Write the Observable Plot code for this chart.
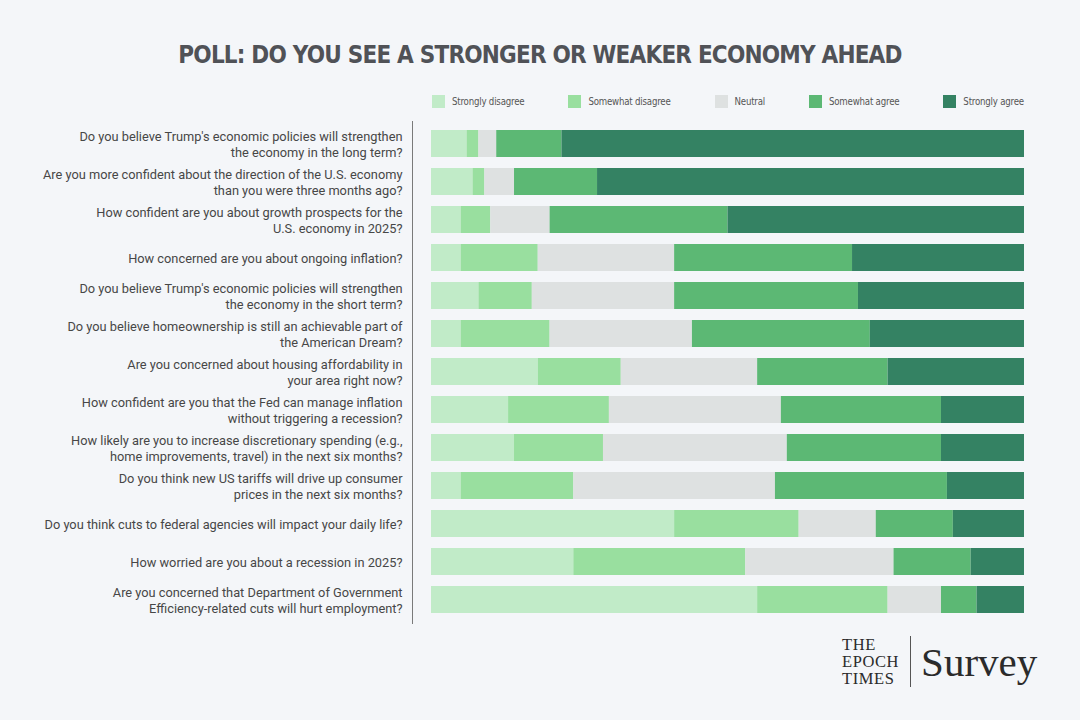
<!DOCTYPE html>
<html>
<head>
<meta charset="utf-8">
<script src="https://cdn.jsdelivr.net/npm/d3@7"></script>
<script src="https://cdn.jsdelivr.net/npm/@observablehq/plot@0.6"></script>
<style>
  html, body { margin: 0; padding: 0; background: #f4f6f9; }
  #page { position: relative; width: 1080px; height: 720px; overflow: hidden; background: #f4f6f9; }
  #title { position: absolute; left: 0; top: 40px; width: 1080px; text-align: center;
    font-family: "DejaVu Sans Condensed", "DejaVu Sans", sans-serif; font-stretch: condensed;
    font-weight: bold; font-size: 24px; line-height: 30px; letter-spacing: -0.8px; color: #505257; }
  #legend { position: absolute; left: 432px; top: 94px; width: 592px; display: flex; justify-content: space-between;
    font-family: "DejaVu Sans Condensed", "DejaVu Sans", sans-serif; font-stretch: condensed; font-size: 9.6px; letter-spacing: -0.2px; color: #555; }
  #legend .item { display: flex; align-items: center; height: 14px; }
  #legend .sw { width: 13px; height: 13px; margin-right: 7px; }
  #chart { position: absolute; left: 0; top: 115px; }
  #logo { position: absolute; left: 842px; top: 636px; display: flex; align-items: center; font-family: "Liberation Serif", "Times New Roman", serif; color: #2b2b2b; }
  #logo .epoch div { font-size: 16.5px; line-height: 17px; height: 17px; letter-spacing: 0.6px; }
  #logo .bar { width: 1px; height: 51px; background: #555; margin: 0 10px 0 11px; }
  #logo .survey { font-size: 41px; line-height: 44px; }
</style>
</head>
<body>
<div id="page">
  <div id="title"></div>
  <div id="legend"></div>
  <div id="chart"></div>
  <div id="logo"><div class="epoch"><div>THE</div><div>EPOCH</div><div>TIMES</div></div><div class="bar"></div><div class="survey">Survey</div></div>
</div>
<script>
const titleText = "POLL: DO YOU SEE A STRONGER OR WEAKER ECONOMY AHEAD";

const questions = [
  "Do you believe Trump's economic policies will strengthen\nthe economy in the long term?",
  "Are you more confident about the direction of the U.S. economy\nthan you were three months ago?",
  "How confident are you about growth prospects for the\nU.S. economy in 2025?",
  "How concerned are you about ongoing inflation?",
  "Do you believe Trump's economic policies will strengthen\nthe economy in the short term?",
  "Do you believe homeownership is still an achievable part of\nthe American Dream?",
  "Are you concerned about housing affordability in\nyour area right now?",
  "How confident are you that the Fed can manage inflation\nwithout triggering a recession?",
  "How likely are you to increase discretionary spending (e.g.,\nhome improvements, travel) in the next six months?",
  "Do you think new US tariffs will drive up consumer\nprices in the next six months?",
  "Do you think cuts to federal agencies will impact your daily life?",
  "How worried are you about a recession in 2025?",
  "Are you concerned that Department of Government\nEfficiency-related cuts will hurt employment?"
];

const responses = ["Strongly disagree", "Somewhat disagree", "Neutral", "Somewhat agree", "Strongly agree"];
const colors = ["#c1ebc8", "#99df9f", "#dee1e1", "#5cb874", "#348263"];

const stronglyDisagree = [6, 7, 5, 5, 8, 5, 18, 13, 14, 5, 41, 24, 55];
const somewhatDisagree = [2, 2, 5, 13, 9, 15, 14, 17, 15, 19, 21, 29, 22];
const neutral          = [3, 5, 10, 23, 24, 24, 23, 29, 31, 34, 13, 25, 9];
const somewhatAgree    = [11, 14, 30, 30, 31, 30, 22, 27, 26, 29, 13, 13, 6];
const stronglyAgree    = [78, 72, 50, 29, 28, 26, 23, 14, 14, 13, 12, 9, 8];

const series = [stronglyDisagree, somewhatDisagree, neutral, somewhatAgree, stronglyAgree];

const data = [];
questions.forEach((q, i) => {
  responses.forEach((r, j) => {
    data.push({question: q, response: r, value: series[j][i]});
  });
});

document.getElementById("title").textContent = titleText;

const legend = document.getElementById("legend");
responses.forEach((r, j) => {
  const item = document.createElement("div");
  item.className = "item";
  const sw = document.createElement("div");
  sw.className = "sw";
  sw.style.background = colors[j];
  const t = document.createElement("span");
  t.textContent = r;
  item.appendChild(sw);
  item.appendChild(t);
  legend.appendChild(item);
});

const chart = Plot.plot({
  width: 1080,
  height: 515,
  marginTop: 6,
  marginBottom: 7,
  marginLeft: 412,
  marginRight: 56,
  style: {background: "transparent", fontFamily: "Roboto, 'Noto Sans', sans-serif"},
  x: {domain: [0, 100], axis: null, insetLeft: 19},
  y: {domain: questions, paddingInner: 0.287, paddingOuter: 0.18, label: null},
  color: {domain: responses, range: colors},
  marks: [
    Plot.barX(data, {x: "value", y: "question", fill: "response"}),
    Plot.axisY({tickSize: 0, tickPadding: 10, fontSize: 12.8, fill: "#474747", label: null, lineHeight: 1.27}),
    Plot.frame({anchor: "left", stroke: "#7a7a7a"})
  ]
});
document.getElementById("chart").appendChild(chart);
</script>
</body>
</html>
